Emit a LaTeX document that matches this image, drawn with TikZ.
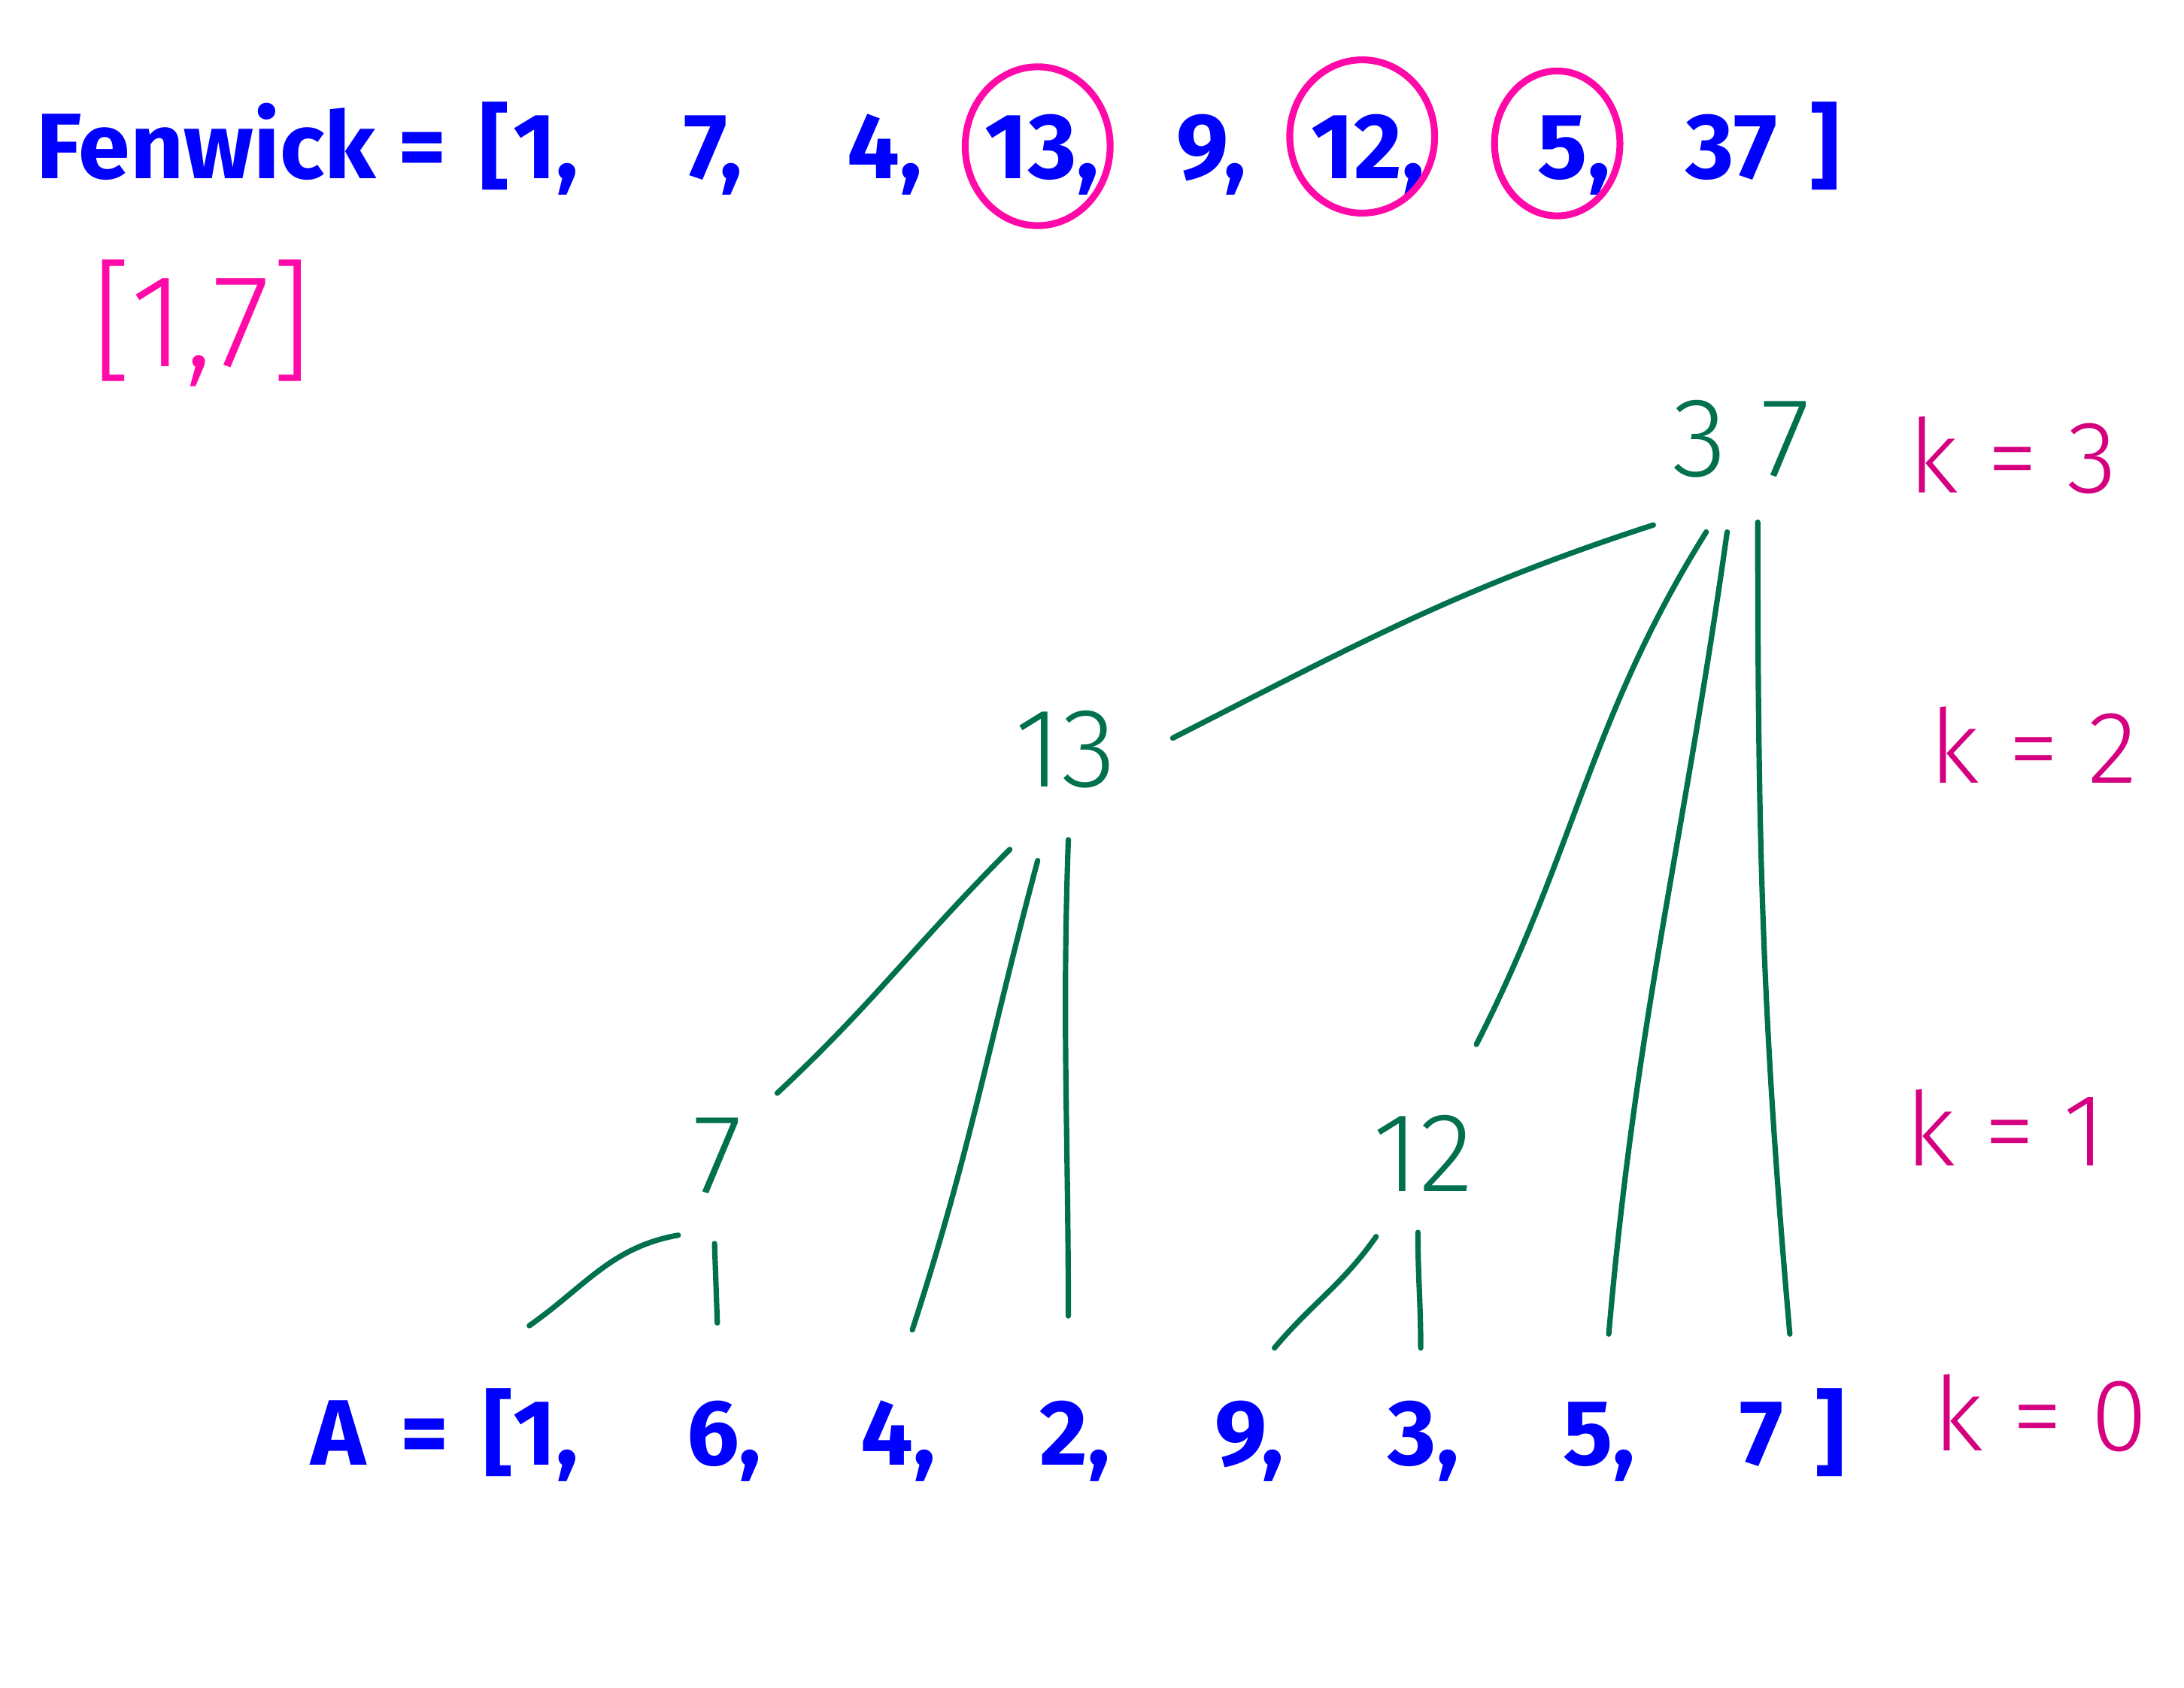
\documentclass[tikz,border=0pt]{standalone}
\usepackage{fontspec}
\setmainfont{Fira Sans}
\newfontfamily\handfont{Fira Sans}[UprightFont=* Light]
\usetikzlibrary{shapes.geometric}
\definecolor{penblue}{HTML}{0000FF}
\definecolor{penpink}{HTML}{FF0AA8}
\definecolor{pengreen}{HTML}{00704F}
\definecolor{penmagenta}{HTML}{D4007F}
\tikzset{
  arr/.style={text=penblue, font=\bfseries\fontsize{19}{22}\selectfont, anchor=base, inner sep=0pt},
  tree/.style={text=pengreen, font=\handfont\fontsize{23}{26}\selectfont, inner sep=0pt},
  level/.style={text=penmagenta, font=\handfont\fontsize{21}{24}\selectfont, inner sep=0pt},
  edge/.style={draw=pengreen, line width=1.1pt, line cap=round},
  ring/.style={draw=penpink, line width=1.4pt, ellipse, inner sep=0pt}
}
\begin{document}
\begin{tikzpicture}[x=0.01cm, y=-0.01cm]
\useasboundingbox (0,0) rectangle (1568,1212);

% Fenwick array
\node[arr] (fname) at (148,128) {Fenwick};
\node[arr] (feq) at (303,128) {=};
\node[arr] (fopen) at (355,128) {[};
\node[arr] (fw1) at (392,128) {1,};
\node[arr] (fw2) at (512,128) {7,};
\node[arr] (fw3) at (635,128) {4,};
\node[arr] (fw4) at (748,128) {13,};
\node[arr] (fw5) at (870,128) {9,};
\node[arr] (fw6) at (982,128) {12,};
\node[arr] (fw7) at (1130,128) {5,};
\node[arr] (fw8) at (1243,128) {37};
\node[arr] (fclose) at (1310,128) {]};

\node[ring, minimum width=1.04cm, minimum height=1.14cm] (ring4) at (745,105) {};
\node[ring, minimum width=1.04cm, minimum height=1.10cm] (ring6) at (978,98) {};
\node[ring, minimum width=0.90cm, minimum height=1.04cm] (ring7) at (1118,103) {};

% query range
\node[text=penpink, font=\handfont\fontsize{27}{30}\selectfont, inner sep=0pt] (range) at (145,232) {[1,7]};

% tree
\node[tree] (t37) at (1250,315) {3\hspace{0.3em}7};
\node[tree] (t13) at (765,538) {13};
\node[tree] (t7) at (515,830) {7};
\node[tree] (t12) at (1022,828) {12};

% levels
\node[level] (kthree) at (1445,327) {k = 3};
\node[level] (ktwo) at (1460,535) {k = 2};
\node[level] (kone) at (1440,810) {k = 1};
\node[level] (kzero) at (1465,1015) {k = 0};

% input array
\node[arr] (aname) at (243,1052) {A};
\node[arr] (aeq) at (305,1052) {=};
\node[arr] (aopen) at (358,1052) {[};
\node[arr] (a1) at (392,1052) {1,};
\node[arr] (a2) at (520,1052) {6,};
\node[arr] (a3) at (645,1052) {4,};
\node[arr] (a4) at (772,1052) {2,};
\node[arr] (a5) at (897,1052) {9,};
\node[arr] (a6) at (1022,1052) {3,};
\node[arr] (a7) at (1148,1052) {5,};
\node[arr] (a8) at (1265,1052) {7};
\node[arr] (aclose) at (1314,1052) {]};

% edges
\draw[edge] ([shift={(-63,62)}]t37.center) to[out=198, in=27] ([shift={(77,-8)}]t13.center);
\draw[edge] ([shift={(-25,67)}]t37.center) to[out=238, in=63] ([shift={(38,-78)}]t12.center);
\draw[edge] ([shift={(-10,67)}]t37.center) to[out=262, in=85] ([shift={(7,-94)}]a7.base);
\draw[edge] ([shift={(12,60)}]t37.center) to[out=270, in=95] ([shift={(20,-94)}]a8.base);
\draw[edge] ([shift={(-40,72)}]t13.center) to[out=225, in=43] ([shift={(43,-45)}]t7.center);
\draw[edge] ([shift={(-20,80)}]t13.center) to[out=255, in=72] ([shift={(10,-97)}]a3.base);
\draw[edge] ([shift={(2,65)}]t13.center) to[out=268, in=90] ([shift={(-5,-107)}]a4.base);
\draw[edge] ([shift={(-28,57)}]t7.center) to[out=190, in=35] ([shift={(-12,-100)}]a1.base);
\draw[edge] ([shift={(-2,63)}]t7.center) to[out=272, in=92] ([shift={(-5,-102)}]a2.base);
\draw[edge] ([shift={(-34,60)}]t12.center) to[out=235, in=50] ([shift={(18,-84)}]a5.base);
\draw[edge] ([shift={(-4,57)}]t12.center) to[out=270, in=90] ([shift={(-2,-84)}]a6.base);
\end{tikzpicture}
\end{document}
